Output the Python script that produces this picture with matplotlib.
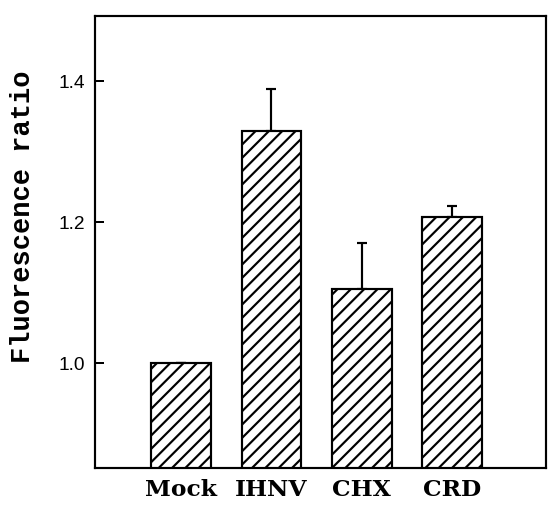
import matplotlib
matplotlib.use("Agg")
import matplotlib.pyplot as plt

categories = ["Mock", "IHNV", "CHX", "CRD"]
values = [1.0, 1.329, 1.105, 1.207]
errors_up = [0.0, 0.060, 0.065, 0.016]
yticks = [1.0, 1.2, 1.4]
ytick_labels = ["1.0", "1.2", "1.4"]

DPI = 120
W, H = 551, 509
plt.rcParams['hatch.linewidth'] = 1.3
fig = plt.figure(figsize=(W / DPI, H / DPI), dpi=DPI)
ax = fig.add_axes([95 / W, 1 - 469 / H, (546 - 95) / W, (469 - 17) / H])

x = list(range(len(categories)))
ax.bar(x, values, width=0.66, bottom=0, color="white", edgecolor="black",
       linewidth=1.3, hatch="///", zorder=2)
lower = [0.0] * len(errors_up)
ax.errorbar(x, values, yerr=[lower, errors_up], fmt="none", ecolor="black",
            elinewidth=1.3, capsize=3, capthick=1.3, zorder=1)

ax.set_xlim(-0.952, 4.04)
ax.set_ylim(0.851, 1.492)
ax.set_yticks(yticks)
ax.set_yticklabels(ytick_labels, family="Liberation Sans", fontsize=11.5)
ax.set_xticks(x)
ax.set_xticklabels(categories, family="DejaVu Serif", fontsize=14,
                   fontweight="bold")
ax.tick_params(axis="y", direction="in", length=5.5, width=1.2, pad=6)
ax.tick_params(axis="x", length=0, pad=6)
for s in ax.spines.values():
    s.set_linewidth(1.3)

fig.text(23 / W, 1 - 217 / H, "Fluorescence ratio", rotation=90,
         ha="center", va="center", family="Liberation Mono", fontsize=16.2,
         fontweight="bold")

fig.savefig("out.png", dpi=DPI)
